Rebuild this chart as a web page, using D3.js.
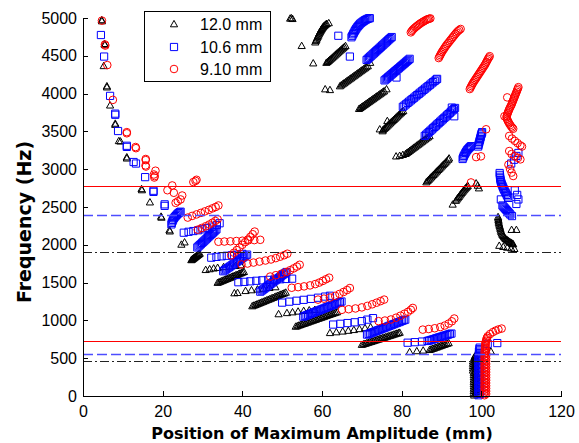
<!DOCTYPE html>
<html>
<head>
<meta charset="utf-8">
<script src="https://cdn.jsdelivr.net/npm/d3@7"></script>
<style>
  html, body { margin: 0; padding: 0; background: #fff; }
  svg { display: block; }
  text { font-family: "Liberation Sans", Arial, sans-serif; }
  text.axis-title { font-family: "DejaVu Sans", sans-serif; font-weight: bold; }
</style>
</head>
<body>
<svg id="chart" width="579" height="443"></svg>
<script>
// ---- data --------------------------------------------------------------
const seriesNames = ["12.0 mm", "10.6 mm", "9.10 mm"];
const xTicks = [0, 20, 40, 60, 80, 100, 120];
const yTicks = [0, 500, 1000, 1500, 2000, 2500, 3000, 3500, 4000, 4500, 5000];

// 12.0 mm: [position of maximum amplitude (mm), frequency (Hz)]
const tri12 = [
  [4.7,4975],[4.75,4960],[5.4,4660],[5.5,4645],[5.2,4367],[6.0,4100],[6.0,4085],
  [6.8,3846],[8.1,3605],[8.1,3590],[9.0,3375],[9.4,3370],[11.0,3160],[11.0,3145],
  [14.7,2740],[14.8,2725],[16.8,2564],[19.6,2375],[19.7,2362],[21.7,2195],[21.8,2180],
  [24.7,2005],[25.5,2035],
  [27.2,1800],[27.35,1806],[27.5,1812],[27.65,1818],[27.8,1825],[27.95,1831],[28.1,1837],[28.25,1843],
  [28.4,1849],[28.55,1855],[28.7,1862],[28.85,1868],[29.0,1874],[29.15,1880],[29.3,1886],
  [30.8,1670],[31.8,1680],[32.8,1690],[33.8,1698],[35.3,1708],[36.8,1716],[38.3,1724],[39.6,1732],
  [33.8,1500],[34.15,1508],[34.5,1515],[34.85,1523],[35.2,1530],[35.55,1538],[35.9,1546],[36.25,1553],
  [36.6,1561],[36.95,1568],[37.3,1576],[37.65,1584],[38.0,1591],[38.35,1599],[38.7,1606],[39.05,1614],
  [39.4,1622],[39.75,1629],[40.1,1637],[40.4,1644],
  [38.0,1362],[38.8,1366],[40.8,1392],[42.3,1402],[43.8,1412],[45.3,1422],[46.8,1432],[48.3,1442],
  [42.5,1190],[42.9,1199],[43.3,1207],[43.7,1216],[44.1,1224],[44.5,1233],[44.9,1241],[45.3,1250],
  [45.7,1259],[46.1,1267],[46.5,1276],[46.9,1284],[47.3,1293],[47.7,1301],[48.1,1310],[48.5,1319],
  [48.9,1327],[49.3,1336],[49.7,1344],[50.1,1353],[50.5,1361],[50.9,1370],
  [49.1,1085],[51.2,1100],[52.6,1110],[54.0,1120],[55.4,1128],[56.8,1136],[58.2,1142],
  [53.4,920],[53.8,927],[54.2,935],[54.6,942],[55.0,950],[55.4,957],[55.8,964],[56.2,972],[56.6,979],
  [57.0,987],[57.4,994],[57.8,1001],[58.2,1009],[58.6,1016],[59.0,1024],[59.4,1031],[59.8,1038],
  [60.2,1046],[60.6,1053],[61.0,1061],[61.4,1068],[61.8,1075],[62.2,1083],[62.6,1090],[63.0,1098],
  [63.4,1105],[63.8,1112],
  [62.0,836],[63.6,846],[65.2,856],[66.6,866],[68.0,876],[69.4,888],[70.8,900],[72.2,912],
  [70.0,680],[70.4,687],[70.8,693],[71.2,700],[71.6,707],[72.0,714],[72.4,720],[72.8,727],[73.2,734],
  [73.6,741],[74.0,747],[74.4,754],[74.8,761],[75.2,768],[75.6,774],[76.0,781],[76.4,788],[76.8,795],
  [77.2,801],[77.6,808],[78.0,815],[78.4,822],[78.8,828],[79.2,835],[79.5,840],
  [82.0,584],[83.8,596],[85.4,604],
  [87.0,612],[87.4,619],[87.8,627],[88.2,634],[88.6,642],[89.0,649],[89.4,657],[89.8,664],[90.2,672],
  [90.6,679],[91.0,687],[91.4,694],[91.8,702],
  [98.2,10],[98.7,25],[98.1,40],[98.7,55],[98.1,70],[98.7,85],[98.1,100],[98.7,115],[98.1,130],
  [98.7,145],[98.1,160],[98.7,175],[98.1,190],[98.7,205],[98.1,220],[98.7,235],[98.1,250],[98.7,265],
  [98.1,280],[98.7,295],[98.1,310],[98.5,325],[97.9,340],[98.5,355],[97.9,370],[98.5,385],[97.9,400],
  [98.5,415],[97.9,430],[98.5,445],[97.9,460],[98.5,475],[98.1,490],[98.5,505],[98.3,520],[98.5,535],
  [102.4,590],
  [52.0,4995],[52.3,5000],[52.6,4990],[54.9,4633],[57.8,4403],
  [58.3,4680],[58.45,4698],[58.6,4715],[58.75,4733],[58.9,4750],[59.05,4768],[59.2,4785],[59.35,4800],
  [59.5,4815],[59.65,4830],[59.8,4845],[59.95,4858],[60.1,4870],[60.25,4880],[60.4,4890],[60.6,4900],
  [60.8,4910],[61.0,4918],[61.2,4925],[61.7,4935],
  [61.1,4410],[61.4,4422],[61.7,4436],[62.0,4450],[62.3,4464],[62.6,4478],[62.9,4492],[63.2,4506],
  [63.5,4520],[63.8,4534],[64.1,4548],[64.4,4562],[64.7,4576],[65.0,4590],[65.3,4604],[65.6,4618],
  [65.9,4632],
  [60.8,4060],[62.0,4050],
  [64.5,4100],[64.85,4113],[65.2,4127],[65.55,4140],[65.9,4153],[66.25,4167],[66.6,4180],[66.95,4193],
  [67.3,4206],[67.65,4220],[68.0,4233],[68.35,4246],[68.7,4260],[69.05,4273],[69.4,4286],[69.75,4300],
  [70.1,4313],[70.45,4326],[70.8,4339],[71.15,4353],[71.5,4366],[72.1,4410],
  [69.3,3800],[69.65,3813],[70.0,3826],[70.35,3839],[70.7,3852],[71.05,3865],[71.4,3878],[71.75,3891],
  [72.1,3904],[72.45,3917],[72.8,3930],[73.15,3943],[73.5,3956],[73.85,3969],[74.2,3982],[74.55,3995],
  [74.9,4008],[75.25,4021],[75.6,4034],[76.2,4060],
  [74.5,3530],[75.2,3505],[76.4,3640],
  [75.3,3520],[75.6,3535],[75.9,3550],[76.2,3565],[76.5,3580],[76.8,3595],[77.1,3610],[77.4,3625],
  [77.7,3640],[78.0,3655],[78.3,3670],[78.6,3685],[78.9,3700],[79.2,3715],[79.5,3730],[79.8,3745],
  [80.1,3760],[80.4,3772],
  [78.6,3172],[79.5,3180],[80.3,3192],
  [81.0,3205],[81.35,3219],[81.7,3232],[82.05,3246],[82.4,3260],[82.75,3274],[83.1,3287],[83.45,3301],
  [83.8,3315],[84.15,3328],[84.5,3342],[84.85,3356],[85.2,3369],[85.55,3383],[85.9,3397],[86.25,3411],
  [86.6,3424],[87.0,3440],
  [86.2,2830],[86.5,2846],[86.8,2863],[87.1,2879],[87.4,2895],[87.7,2911],[88.0,2928],[88.3,2944],
  [88.6,2960],[88.9,2976],[89.2,2993],[89.5,3009],[89.8,3025],[90.1,3041],[90.4,3058],[90.7,3074],
  [91.0,3090],[91.3,3106],[91.7,3128],[91.9,3145],
  [92.8,2535],[93.6,2585],[93.85,2602],[94.1,2620],[94.35,2637],[94.6,2655],[94.85,2672],[95.1,2690],
  [95.35,2706],[95.6,2722],[95.85,2737],[96.1,2752],[96.35,2766],[96.6,2780],
  [98.7,2815],[99.1,2785],[99.4,2750],
  [104.2,2370],[104.25,2350],[104.3,2330],[104.35,2310],[104.4,2290],[104.5,2270],[104.6,2250],
  [104.7,2230],[104.8,2210],[104.9,2190],[105.0,2170],[105.15,2152],[105.3,2135],[105.5,2120],
  [105.7,2105],[105.9,2092],[106.1,2080],[106.35,2070],[106.6,2060],[106.85,2050],[107.1,2040],
  [107.35,2032],[107.6,2025],[107.8,2017],[108.0,2010],
  [107.6,2200],[108.8,2200],
  [104.5,1990],[105.5,1975],[106.5,1965],[107.5,1955],[108.3,1948]
];

// 10.6 mm
const sq106 = [
  [4.5,4775],[5.3,4490],[6.8,3970],[8.1,3735],[8.1,3720],[8.8,3505],[11.0,3310],[11.0,3295],
  [12.7,3095],[13.3,3075],[15.6,2895],[17.7,2715],[17.7,2700],[20.5,2535],[20.5,2515],
  [22.2,2270],[22.3,2290],[22.45,2310],[22.6,2330],[22.8,2350],[23.0,2365],[23.25,2380],[23.5,2395],
  [23.75,2410],[24.0,2420],[24.25,2430],[24.5,2438],
  [25.3,2160],[26.5,2172],[27.7,2182],[28.9,2192],[30.0,2205],[31.2,2222],[32.4,2240],[33.6,2262],[34.3,2285],
  [28.7,1965],[29.0,1980],[29.3,1995],[29.6,2010],[29.9,2025],[30.2,2040],[30.5,2055],[30.8,2070],
  [31.1,2085],[31.4,2100],[31.7,2115],[32.0,2130],[32.3,2145],[32.6,2160],[32.9,2175],[33.2,2190],[33.5,2205],
  [32.2,1830],[33.5,1840],[34.8,1848],[36.1,1855],[37.4,1862],[38.7,1870],[40.0,1880],
  [35.2,1650],[35.55,1663],[35.9,1676],[36.25,1689],[36.6,1701],[36.95,1714],[37.3,1727],[37.65,1740],
  [38.0,1753],[38.35,1766],[38.7,1778],[39.05,1791],[39.4,1804],[39.75,1817],[40.1,1830],[40.45,1843],
  [40.8,1855],[41.2,1870],
  [39.0,1505],[40.5,1510],[42.0,1517],[43.5,1524],[45.0,1530],[46.5,1536],[48.0,1540],[49.5,1544],
  [51.0,1548],[52.5,1552],
  [44.5,1380],[44.85,1394],[45.2,1408],[45.55,1421],[45.9,1435],[46.25,1449],[46.6,1463],[46.95,1477],
  [47.3,1490],[47.65,1504],[48.0,1518],[48.35,1532],[48.7,1546],[49.05,1559],[49.4,1573],[49.75,1587],
  [50.1,1601],[50.45,1614],[50.8,1628],[51.1,1640],
  [50.0,1235],[51.8,1248],[53.6,1260],[55.4,1272],[57.2,1285],[59.0,1300],[60.8,1315],[62.0,1326],
  [55.3,1050],[55.7,1058],[56.1,1067],[56.5,1075],[56.9,1083],[57.3,1092],[57.7,1100],[58.1,1108],
  [58.5,1117],[58.9,1125],[59.3,1133],[59.7,1142],[60.1,1150],[60.5,1158],[60.9,1167],[61.3,1175],
  [61.7,1183],[62.1,1192],[62.5,1200],[62.9,1208],[63.3,1217],[63.7,1225],[64.1,1233],[64.5,1242],[64.9,1250],
  [62.8,945],[64.6,955],[66.4,965],[68.2,975],[70.0,990],[71.4,1010],[72.8,1030],
  [71.3,812],[71.7,820],[72.1,829],[72.5,837],[72.9,845],[73.3,853],[73.7,862],[74.1,870],[74.5,878],
  [74.9,886],[75.3,895],[75.7,903],[76.1,911],[76.5,919],[76.9,928],[77.3,936],[77.7,944],[78.1,952],
  [78.5,961],[78.9,969],[79.3,977],[79.7,985],[80.1,994],[80.5,1002],[80.9,1010],
  [81.5,705],[83.3,712],[85.1,720],
  [86.5,728],[86.9,734],[87.3,740],[87.7,747],[88.1,753],[88.5,760],[88.9,767],[89.3,773],[89.7,780],
  [90.1,786],[90.5,793],[90.9,800],[91.3,806],[91.7,813],[92.1,820],[92.5,826],
  [99.3,10],[99.7,28],[99.3,46],[99.7,64],[99.3,82],[99.7,100],[99.3,118],[99.7,136],[99.3,154],
  [99.7,172],[99.3,190],[99.7,208],[99.3,226],[99.7,244],[99.3,262],[99.7,280],[99.3,298],[99.7,316],
  [99.3,334],[99.7,352],[99.3,370],[99.7,388],[99.3,406],[99.7,424],[99.3,442],[99.7,460],[99.3,478],
  [99.7,496],[99.3,514],[99.7,532],[99.4,550],[99.6,568],[99.4,586],[99.6,604],[99.5,622],[99.6,640],
  [101.6,690],[104.0,700],
  [64.1,4765],[67.0,4490],
  [67.4,4745],[67.6,4765],[67.8,4785],[68.0,4805],[68.2,4825],[68.4,4843],[68.6,4860],[68.85,4878],
  [69.1,4895],[69.35,4910],[69.6,4925],[69.9,4938],[70.2,4950],[70.5,4961],[70.8,4972],[71.1,4980],
  [71.4,4988],[71.7,4994],[72.0,4998],
  [71.2,4445],[71.5,4460],[71.8,4474],[72.1,4489],[72.4,4503],[72.7,4518],[73.0,4532],[73.3,4547],
  [73.6,4561],[73.9,4576],[74.2,4590],[74.5,4605],[74.8,4619],[75.1,4634],[75.4,4648],[75.7,4663],
  [76.0,4677],[76.3,4692],[76.6,4706],[76.9,4721],[77.2,4735],[77.5,4748],
  [75.7,4175],[76.0,4189],[76.3,4202],[76.6,4216],[76.9,4229],[77.2,4243],[77.5,4256],[77.8,4270],
  [78.1,4283],[78.4,4297],[78.7,4310],[79.0,4324],[79.3,4337],[79.6,4351],[79.9,4364],[80.2,4378],
  [80.5,4392],[80.8,4405],[81.1,4419],[81.4,4432],[81.7,4446],[82.0,4460],[78.7,4213],
  [80.3,3825],[80.7,3842],[81.1,3859],[81.5,3877],[81.9,3894],[82.3,3911],[82.7,3928],[83.1,3945],
  [83.5,3963],[83.9,3980],[84.3,3997],[84.7,4014],[85.1,4031],[85.5,4049],[85.9,4066],[86.3,4083],
  [86.7,4100],[87.1,4117],[87.5,4135],[87.9,4152],[88.3,4169],[88.7,4186],[88.9,4195],
  [85.8,3440],[86.15,3457],[86.5,3474],[86.85,3491],[87.2,3508],[87.55,3525],[87.9,3542],[88.25,3559],
  [88.6,3576],[88.95,3593],[89.3,3610],[89.65,3627],[90.0,3644],[90.35,3661],[90.7,3678],[91.05,3695],
  [91.4,3712],[91.75,3729],[92.1,3746],[92.45,3763],[92.8,3780],[93.1,3795],[93.4,3810],
  [93.2,3700],[92.6,3815],
  [95.3,3135],[95.45,3155],[95.6,3175],[95.8,3195],[96.0,3215],[96.2,3232],[96.4,3250],[96.65,3265],
  [96.9,3280],[97.15,3293],[97.4,3305],
  [99.2,3300],[99.3,3320],[99.4,3340],[99.5,3360],[99.6,3380],[99.7,3400],[99.8,3420],[99.9,3440],
  [100.0,3460],[100.1,3475],[100.2,3490],
  [104.6,2950],[104.65,2925],[104.7,2900],[104.75,2880],[104.8,2860],[104.9,2840],[105.0,2820],
  [105.15,2800],[105.3,2780],[105.45,2760],[105.6,2740],[105.8,2720],[106.0,2700],[106.2,2680],
  [106.4,2660],[106.6,2640],[106.8,2620],[104.9,2600],[108.4,2720],[109.0,2660],[109.3,2600],[108.8,2540],
  [105.3,2520],[105.55,2505],[105.8,2490],[106.05,2475],[106.3,2460],[106.55,2445],[106.8,2430],
  [107.05,2415],[107.3,2400],[107.7,2380],
  [107.5,3075],[108.2,3125],[108.8,3175],[109.3,3215]
];

// 9.10 mm
const circ910 = [
  [4.75,4965],[5.5,4650],[5.6,4635],[6.1,4377],[7.5,3917],[11.0,3490],[11.0,3475],[13.2,3293],
  [13.3,3278],[15.75,3135],[15.75,3120],[15.7,3050],[15.8,3035],[18.2,2980],[18.0,2909],[17.9,2890],
  [17.8,2930],[22.4,2785],[21.2,2722],[22.8,2688],[24.9,2652],[24.5,2600],[23.25,2555],[23.8,2575],
  [28.25,2845],[28.5,2860],[27.7,2830],
  [26.3,2360],[27.4,2382],[28.5,2402],[29.6,2422],[30.6,2442],[31.6,2462],[32.5,2482],[33.3,2500],[34.0,2520],
  [28.8,2200],[29.8,2222],[30.8,2245],[31.7,2268],[32.5,2292],[33.2,2315],[33.8,2338],
  [34.0,2040],[35.5,2043],[37.0,2046],[38.5,2050],[40.0,2054],[41.5,2058],[43.0,2062],[44.5,2066],
  [37.2,1860],[37.9,1895],[38.6,1930],[39.3,1965],[40.0,2000],[40.7,2035],[41.4,2070],[42.0,2105],
  [42.6,2140],[43.1,2175],
  [39.8,1740],[41.3,1752],[42.8,1765],[44.3,1778],[45.8,1792],[47.2,1806],[48.4,1824],[49.5,1843],
  [50.5,1862],[51.3,1882],
  [47.0,1580],[48.4,1598],[49.8,1617],[51.0,1640],[52.0,1664],[52.9,1688],[53.7,1712],[54.4,1736],
  [52.4,1432],[54.0,1440],[55.5,1450],[57.0,1463],[58.3,1480],[59.3,1500],[60.2,1522],[61.0,1544],[61.8,1565],
  [59.0,1275],[60.5,1288],[62.0,1302],[63.3,1325],[64.4,1350],[65.4,1376],[66.3,1402],[67.0,1428],
  [65.0,1140],[66.7,1148],[68.4,1158],[70.0,1172],[71.4,1192],[72.6,1213],[73.7,1234],[74.7,1255],[75.6,1275],
  [74.2,990],[75.8,998],[77.3,1012],[78.6,1036],[79.7,1062],[80.7,1088],[81.6,1114],[82.3,1140],[82.8,1165],
  [85.3,878],[86.8,886],[88.3,896],[89.7,912],[90.8,932],[91.8,958],[92.6,988],[93.2,1025],
  [100.8,10],[101.2,28],[100.8,46],[101.2,64],[100.8,82],[101.2,100],[100.8,118],[101.2,136],
  [100.8,154],[101.2,172],[100.8,190],[101.2,208],[100.8,226],[101.2,244],[100.8,262],[101.2,280],
  [100.8,298],[101.2,316],[100.8,334],[101.2,352],[100.8,370],[101.2,388],[100.8,406],[101.2,424],
  [100.8,442],[101.2,460],[100.8,478],[101.2,496],[100.8,514],[101.2,532],[100.8,550],[101.2,568],
  [100.8,586],[101.2,604],[100.9,622],[101.1,640],[100.9,658],[101.1,676],[101.0,694],[101.1,712],
  [101.2,730],[101.3,750],[101.4,770],[101.6,790],
  [102.2,820],[102.9,845],[103.6,865],[104.3,880],[105.1,892],
  [82.3,4810],[82.55,4828],[82.8,4845],[83.1,4860],[83.4,4875],[83.7,4888],[84.0,4900],[84.3,4913],
  [84.6,4925],[84.95,4937],[85.3,4948],[85.65,4959],[86.0,4970],[86.3,4978],[86.6,4985],[86.9,4990],[87.2,4995],
  [89.3,4470],[89.5,4490],[89.7,4510],[89.9,4530],[90.1,4550],[90.35,4570],[90.6,4590],[90.85,4610],
  [91.1,4630],[91.4,4650],[91.7,4670],[92.0,4690],[92.3,4710],[92.6,4730],[92.9,4750],[93.2,4770],
  [93.5,4790],[93.8,4808],[94.1,4825],[94.45,4840],[94.8,4855],
  [97.1,4060],[97.3,4080],[97.5,4100],[97.7,4120],[97.9,4140],[98.15,4160],[98.4,4180],[98.65,4200],
  [98.9,4220],[99.15,4240],[99.4,4260],[99.65,4280],[99.9,4300],[100.15,4320],[100.4,4340],[100.65,4360],
  [100.9,4380],[101.1,4400],[101.3,4420],[101.5,4440],[101.7,4460],[101.9,4478],[102.1,4495],
  [109.3,4085],[109.15,4065],[109.0,4045],[108.85,4025],[108.7,4005],[108.55,3985],[108.4,3965],
  [108.25,3945],[108.1,3925],[107.95,3905],[107.8,3885],[107.65,3865],[107.5,3845],[107.3,3825],
  [107.1,3805],[106.95,3785],[106.8,3765],[106.65,3745],[106.5,3725],[106.4,3705],[106.3,3685],
  [106.45,3665],[106.6,3645],[106.8,3625],[107.0,3605],[107.25,3585],[107.5,3565],[107.75,3550],[108.0,3535],
  [106.5,3950],[105.8,3700],
  [107.0,3440],[107.7,3405],[108.4,3375],[109.1,3345],[109.8,3315],[110.2,3300],
  [107.0,3240],[107.6,3200],[108.4,3170],[109.2,3150],[109.8,3130],
  [106.8,3060],[107.2,3005],[107.6,2955],[108.0,2910],
  [101.2,3528],[98.7,3160],[99.9,3170],[97.4,2825]
];

// horizontal reference levels (Hz) per series
const refLevels12 = [460, 1910];
const refLevels106 = [560, 2400];
const refLevels910 = [730, 2780];

// ---- drawing -----------------------------------------------------------
const svg = d3.select("#chart");
svg.append("rect").attr("width", 579).attr("height", 443).attr("fill", "#fff");

const x = d3.scaleLinear().domain([0, 120]).range([83, 561]);
const y = d3.scaleLinear().domain([0, 5000]).range([396, 18]);

const triPath = "M0,-3.6L3.6,2.8L-3.6,2.8Z";
const sqPath = "M-3.6,-3.6H3.6V3.6H-3.6Z";

const plot = svg.append("g");

function drawMarkers(data, path, color, cls) {
  plot.append("g").attr("class", cls)
    .selectAll("path").data(data).join("path")
    .attr("d", path)
    .attr("transform", d => `translate(${x(d[0])},${y(d[1])})`)
    .attr("fill", "none").attr("stroke", color).attr("stroke-width", 1);
}
function drawCircles(data, color, cls) {
  plot.append("g").attr("class", cls)
    .selectAll("circle").data(data).join("circle")
    .attr("cx", d => x(d[0])).attr("cy", d => y(d[1])).attr("r", 3.8)
    .attr("fill", "none").attr("stroke", color).attr("stroke-width", 1);
}
drawMarkers(tri12, triPath, "#000", "s12");
drawMarkers(sq106, sqPath, "#0000ff", "s106");
drawCircles(circ910, "#ff0000", "s910");

// reference lines across the full width
function refLines(levels, color, dash, width) {
  plot.append("g").selectAll("line").data(levels).join("line")
    .attr("x1", x(0)).attr("x2", x(120))
    .attr("y1", d => Math.round(y(d)) + 0.5).attr("y2", d => Math.round(y(d)) + 0.5)
    .attr("stroke", color).attr("stroke-width", width)
    .attr("stroke-dasharray", dash);
}
refLines(refLevels12, "#222", "9,3,2,3", 1);
refLines(refLevels106, "#4d4dff", "10,4", 1.5);
refLines(refLevels910, "#ff0000", null, 1);

// axes (ticks point inward)
const xAxis = d3.axisBottom(x).tickValues(xTicks).tickFormat(d3.format("d"))
  .tickSizeInner(-5).tickSizeOuter(0).tickPadding(10);
const yAxis = d3.axisLeft(y).tickValues(yTicks).tickFormat(d3.format("d"))
  .tickSizeInner(-5).tickSizeOuter(0).tickPadding(6);

const gx = svg.append("g").attr("transform", `translate(0,${y(0)})`).call(xAxis);
const gy = svg.append("g").attr("transform", `translate(${x(0)},0)`).call(yAxis);
[gx, gy].forEach(g => {
  g.selectAll("path,line").attr("stroke", "#000").attr("shape-rendering", "crispEdges");
  g.selectAll("text").attr("font-size", 16).attr("fill", "#000")
    .style("font-family", "'Liberation Sans', Arial, sans-serif");
});

svg.append("text").attr("class", "axis-title")
  .attr("x", (x(0) + x(120)) / 2).attr("y", 439)
  .attr("text-anchor", "middle").attr("font-size", 16).attr("fill", "#000")
  .text("Position of Maximum Amplitude (mm)");
svg.append("text").attr("class", "axis-title")
  .attr("transform", "translate(31,222) rotate(-90)")
  .attr("text-anchor", "middle").attr("font-size", 19).attr("fill", "#000")
  .text("Frequency (Hz)");

// legend
const legend = svg.append("g");
legend.append("rect").attr("x", 144.5).attr("y", 11.5).attr("width", 126).attr("height", 70)
  .attr("fill", "#fff").attr("stroke", "#000").attr("stroke-width", 1);
const legRows = [24, 47, 69];
const legMarkers = [
  g => g.append("path").attr("d", triPath).attr("fill", "none").attr("stroke", "#000"),
  g => g.append("path").attr("d", sqPath).attr("fill", "none").attr("stroke", "#0000ff"),
  g => g.append("circle").attr("r", 3.8).attr("fill", "none").attr("stroke", "#ff0000")
];
seriesNames.forEach((name, i) => {
  const g = legend.append("g").attr("transform", `translate(174,${legRows[i]})`);
  legMarkers[i](g);
  legend.append("text").attr("x", 200).attr("y", legRows[i]).attr("dy", "0.36em")
    .attr("font-size", 16).attr("fill", "#000").text(name);
});
</script>
</body>
</html>
